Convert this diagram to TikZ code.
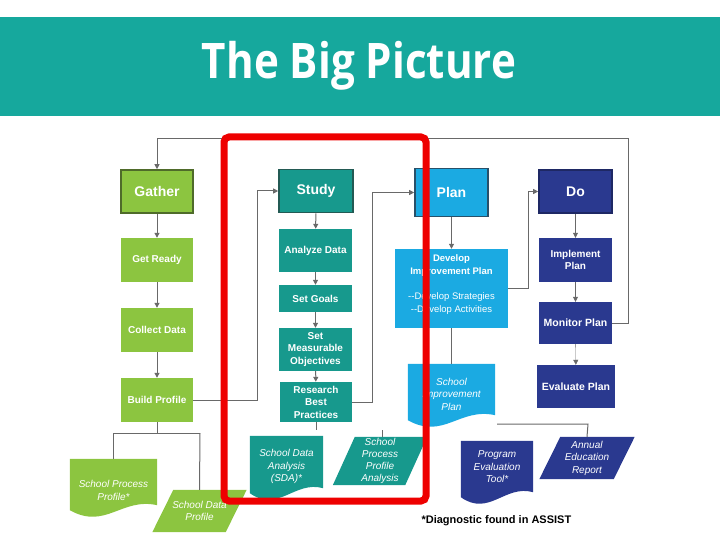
\documentclass[tikz,border=0pt]{standalone}
\usepackage{fontspec}
\setmainfont{Liberation Sans}
\newfontfamily\titlefont{Open Sans}
\usetikzlibrary{arrows.meta,calc,backgrounds}
\definecolor{barc}{RGB}{22,168,157}
\definecolor{grn}{RGB}{140,197,64}
\definecolor{grnb}{RGB}{79,107,42}
\definecolor{tea}{RGB}{23,153,141}
\definecolor{teab}{RGB}{35,90,84}
\definecolor{lbl}{RGB}{27,170,226}
\definecolor{lblb}{RGB}{40,80,105}
\definecolor{nav}{RGB}{42,57,143}
\definecolor{navb}{RGB}{30,40,100}
\definecolor{connc}{RGB}{105,105,105}
\definecolor{redc}{RGB}{238,0,0}
\newcommand\docfill[2]{%
  \fill[#2] (#1.north west) -- (#1.north east) -- ($(#1.south east)+(0,-5)$)
    .. controls ($(#1.south)+(8,-13)$) and ($(#1.south)+(-8,20)$) .. (#1.south west) -- cycle;}
\newcommand\parafill[3]{%
  \fill[#2] ($(#1.north west)+(#3,0)$) -- ($(#1.north east)+(#3,0)$) --
    ($(#1.south east)+(-#3,0)$) -- ($(#1.south west)+(-#3,0)$) -- cycle;}
\begin{document}
\begin{tikzpicture}[x=1pt,y=-1pt,
  box/.style={rectangle, inner sep=1pt, align=center, text=white,
    font=\bfseries\fontsize{10}{12.5}\selectfont},
  hbox/.style={box, draw, line width=1.6pt, font=\bfseries\fontsize{14}{16}\selectfont},
  shp/.style={rectangle, inner sep=0pt},
  txt/.style={align=center, text=white, inner sep=0pt,
    font=\itshape\fontsize{10}{12.5}\selectfont},
  conn/.style={draw=connc, line width=1pt},
  arr/.style={conn, -{Triangle[length=5pt,width=5pt]}},
  redbox/.style={draw=redc, line width=7pt, rounded corners=5pt}
]
\useasboundingbox (0,0) rectangle (720,540);

% title
\node[font=\titlefont\bfseries\fontsize{49}{50}\selectfont, text=white,
  xscale=0.86, anchor=base] (title) at (359,79) {The Big Picture};

% Gather column
\node[hbox, fill=grn, draw=grnb, minimum width=72, minimum height=43] (gather) at (157,191.5) {Gather};
\node[box, fill=grn, minimum width=72, minimum height=44] (ready) at (157,260) {Get Ready};
\node[box, fill=grn, minimum width=72, minimum height=44] (collect) at (157,330) {Collect Data};
\node[box, fill=grn, minimum width=72, minimum height=44] (build) at (157,400) {Build Profile};

% Study column
\node[hbox, fill=tea, draw=teab, minimum width=74, minimum height=43] (study) at (316,191) {Study};
\node[box, fill=tea, minimum width=73, minimum height=43] (analyze) at (315.5,250.5) {Analyze Data};
\node[box, fill=tea, minimum width=73, minimum height=27] (goals) at (315.5,298.5) {Set Goals};
\node[box, fill=tea, minimum width=73, minimum height=43] (smo) at (315.5,349.5) {Set\\Measurable\\Objectives};
\node[box, fill=tea, minimum width=72, minimum height=40] (research) at (316,402) {Research\\Best\\Practices};

% Plan column
\node[hbox, fill=lbl, draw=lblb, minimum width=73, minimum height=48] (plan) at (451.5,192.5) {Plan};
\node[shp, fill=lbl, minimum width=113, minimum height=79,
  label={[align=center, text=white, inner sep=0pt, yshift=4pt, font=\fontsize{9.5}{12.5}\selectfont]center:
  \bfseries Develop\\\bfseries Improvement Plan\\[13pt]-{}-Develop Strategies\\-{}-Develop Activities}] (develop) at (451.5,288.5) {};

% Do column
\node[hbox, fill=nav, draw=navb, minimum width=73, minimum height=43] (do) at (575.5,191.5) {Do};
\node[box, fill=nav, minimum width=73, minimum height=44] (implement) at (575.5,260) {Implement\\Plan};
\node[box, fill=nav, minimum width=73, minimum height=42, font=\bfseries\fontsize{10.5}{12.5}\selectfont] (monitor) at (575.5,323) {Monitor Plan};
\node[box, fill=nav, minimum width=78, minimum height=43, font=\bfseries\fontsize{10.5}{12.5}\selectfont] (evaluate) at (576,386.5) {Evaluate Plan};

% documents and data shapes
\node[shp, minimum width=87, minimum height=51,
  label={[txt, yshift=-6pt]center:School Process\\Profile*}] (spp) at (113.5,484.5) {};
\node[shp, minimum width=73, minimum height=42,
  label={[txt]center:School Data\\Profile}] (sdp) at (199.5,511) {};
\node[shp, minimum width=73, minimum height=57,
  label={[txt, yshift=-2pt]center:School Data\\Analysis\\(SDA)*}] (sda) at (286.5,464.5) {};
\node[shp, minimum width=72, minimum height=48,
  label={[txt, font=\itshape\fontsize{10}{12}\selectfont]center:School\\Process\\Profile\\Analysis}] (sppa) at (380,461) {};
\node[shp, minimum width=87, minimum height=56,
  label={[txt, yshift=-2pt]center:School\\Improvement\\Plan}] (sip) at (451.5,392) {};
\node[shp, minimum width=72, minimum height=56,
  label={[txt, yshift=2pt]center:Program\\Evaluation\\Tool*}] (pet) at (497,469) {};
\node[shp, minimum width=74, minimum height=42,
  label={[txt]center:Annual\\Education\\Report}] (aer) at (587,458) {};

\begin{scope}[on background layer]
  \fill[barc] (0,17) rectangle (720,116);
  \docfill{spp}{grn}
  \parafill{sdp}{grn}{10.5}
  \docfill{sda}{tea}
  \parafill{sppa}{tea}{11}
  \docfill{sip}{lbl}
  \docfill{pet}{nav}
  \parafill{aer}{nav}{10.5}
\end{scope}

% note
\node[font=\bfseries\fontsize{11}{13}\selectfont, anchor=base west] (note) at (418,523) {*Diagnostic found in ASSIST};

% coordinates
\coordinate (loopA) at (628,323);
\coordinate (loopB) at (628,139);
\coordinate (bp1) at (257,400);
\coordinate (rp1) at (372,402);
\coordinate (dp1) at (528,288.5);
\coordinate (bsplit) at (157,433);
\coordinate (bleft) at (113.5,433);
\coordinate (bright) at (200,433);
\coordinate (rstub) at (316,430);
\coordinate (sstub) at (382,430);
\coordinate (sipout) at (497,424);
\coordinate (aerin) at (588,424);

% connectors
\draw[arr] (monitor.east) -- (loopA) -- (loopB) -| (gather.north);
\draw[arr] (gather) -- (ready);
\draw[arr] (ready) -- (collect);
\draw[arr] (collect) -- (build);
\draw[arr] (build.east) -- (bp1) |- (study.west);
\draw[conn] (build.south) -- (bsplit);
\draw[conn] (bleft) -- (bright);
\draw[conn] (bleft) -- (spp.north);
\draw[conn] (bright) -- (sdp.north);
\draw[arr] (study) -- (analyze);
\draw[arr] (analyze) -- (goals);
\draw[arr] (goals) -- (smo);
\draw[arr] (smo) -- (research);
\draw[conn] (research.south) -- (rstub);
\draw[conn] (sstub) -- (sstub |- sppa.north);
\draw[arr] (research.east) -- (rp1) |- (plan.west);
\draw[arr] (plan) -- (develop);
\draw[conn] (develop.south) -- (sip.north);
\draw[arr] (develop.east) -- (dp1) |- (do.west);
\draw[conn] (sipout) -- (aerin) -- (aer.north);
\draw[arr, line width=0.4pt] (do) -- (implement);
\draw[arr, line width=0.4pt] (implement) -- (monitor);
\draw[arr, line width=0.4pt] (monitor) -- (evaluate);

% red highlight
\draw[redbox] (224,137) rectangle (426,501);
\end{tikzpicture}
\end{document}
